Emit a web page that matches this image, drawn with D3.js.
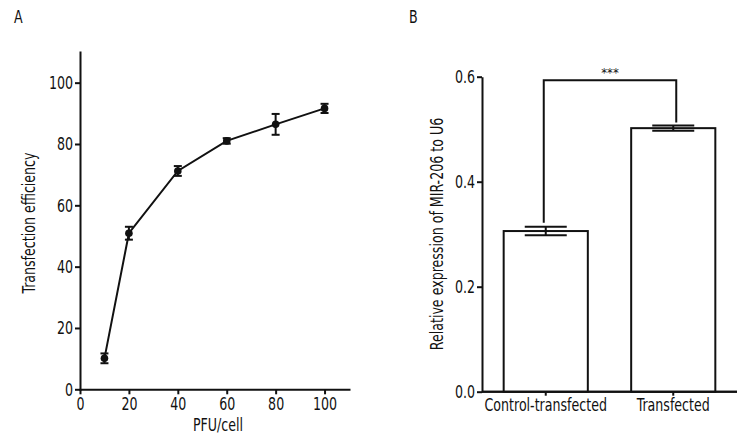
<!DOCTYPE html>
<html><head><meta charset="utf-8">
<script src="https://cdn.jsdelivr.net/npm/d3@7"></script>
<style>
body{margin:0;background:#fff;}
text{font-family:"Liberation Sans Narrow","DejaVu Sans Condensed","Arial Narrow",sans-serif;fill:#111;}
</style></head>
<body><svg id="c" width="750" height="448"></svg>
<script>
// Panel A data
const pfu = [10, 20, 40, 60, 80, 100];
const efficiency = [10.1, 50.9, 71.2, 81.0, 86.4, 91.6];
const efficiencyErr = [1.6, 2.1, 1.6, 0.9, 3.4, 1.5];
const xTicksA = [0, 20, 40, 60, 80, 100];
const yTicksA = [0, 20, 40, 60, 80, 100];
// Panel B data
const groups = ["Control-transfected", "Transfected"];
const expression = [0.306, 0.502];
const expressionErr = [0.008, 0.005];
const yTicksB = [0.0, 0.2, 0.4, 0.6];
const sigLabel = "***";

const svg = d3.select("#c");
const black = "#111";
const SX = 0.78;      // horizontal condensing of text
const FS = "18px";

// ---------- Panel A ----------
const xA = d3.scaleLinear().domain([0, 110]).range([80, 349]);
const yA = d3.scaleLinear().domain([0, 110]).range([389.3, 52]);

const gA = svg.append("g");
const axA_y = gA.append("g").attr("transform", "translate(80,0)")
  .call(d3.axisLeft(yA).tickValues(yTicksA).tickSize(5).tickPadding(4).tickSizeOuter(0));
const axA_x = gA.append("g").attr("transform", "translate(0,389.3)")
  .call(d3.axisBottom(xA).tickValues(xTicksA).tickSize(5).tickPadding(3).tickSizeOuter(0));
[axA_y, axA_x].forEach(a => {
  a.selectAll("path,line").attr("stroke", black).attr("stroke-width", 2);
  a.selectAll("text").style("font-size", FS).attr("fill", black).attr("transform", `scale(${SX},1)`);
  a.select(".domain").attr("stroke-linecap", "square");
});

const ptsA = pfu.map((p, i) => ({x: p, y: efficiency[i], e: efficiencyErr[i]}));
gA.append("path").datum(ptsA)
  .attr("fill", "none").attr("stroke", black).attr("stroke-width", 2)
  .attr("d", d3.line().x(d => xA(d.x)).y(d => yA(d.y)));
const eb = gA.selectAll(".eb").data(ptsA).enter().append("g")
  .attr("stroke", black).attr("stroke-width", 2);
eb.append("line").attr("x1", d => xA(d.x)).attr("x2", d => xA(d.x))
  .attr("y1", d => yA(d.y - d.e)).attr("y2", d => yA(d.y + d.e));
eb.append("line").attr("x1", d => xA(d.x) - 4).attr("x2", d => xA(d.x) + 4)
  .attr("y1", d => yA(d.y + d.e)).attr("y2", d => yA(d.y + d.e));
eb.append("line").attr("x1", d => xA(d.x) - 4).attr("x2", d => xA(d.x) + 4)
  .attr("y1", d => yA(d.y - d.e)).attr("y2", d => yA(d.y - d.e));
gA.selectAll(".pt").data(ptsA).enter().append("circle")
  .attr("cx", d => xA(d.x)).attr("cy", d => yA(d.y)).attr("r", 3.8).attr("fill", black);

gA.append("text").attr("transform", `translate(14,23) scale(${SX},1)`).style("font-size", FS).text("A");
gA.append("text").attr("transform", `translate(35,223) rotate(-90) scale(${SX},1)`)
  .attr("text-anchor", "middle").style("font-size", FS).text("Transfection efficiency");
gA.append("text").attr("transform", `translate(218,431) scale(${SX},1)`).attr("text-anchor", "middle")
  .style("font-size", FS).text("PFU/cell");

// ---------- Panel B ----------
const xB = d3.scaleBand().domain(groups).range([482, 737]).paddingInner(0.34).paddingOuter(0.17);
const yB = d3.scaleLinear().domain([0, 0.6]).range([391.7, 76.7]);
const gB = svg.append("g");

const axB_y = gB.append("g").attr("transform", "translate(482,0)")
  .call(d3.axisLeft(yB).tickValues(yTicksB).tickFormat(d3.format(".1f")).tickSize(5).tickPadding(4).tickSizeOuter(0));
const axB_x = gB.append("g").attr("transform", "translate(0,391.7)")
  .call(d3.axisBottom(xB).tickSize(4).tickPadding(3).tickSizeOuter(0));
[axB_y, axB_x].forEach(a => {
  a.selectAll("path,line").attr("stroke", black).attr("stroke-width", 2);
  a.selectAll("text").style("font-size", FS).attr("fill", black).attr("transform", `scale(${SX},1)`);
});
axB_x.select(".domain").attr("d", "M482,0H737");

const barsB = groups.map((g, i) => ({g, v: expression[i], e: expressionErr[i]}));
gB.selectAll(".bar").data(barsB).enter().append("rect")
  .attr("x", d => xB(d.g)).attr("width", xB.bandwidth())
  .attr("y", d => yB(d.v)).attr("height", d => yB(0) - yB(d.v))
  .attr("fill", "#fff").attr("stroke", black).attr("stroke-width", 2);
gB.append("line").attr("x1", 482).attr("x2", 737).attr("y1", yB(0)).attr("y2", yB(0))
  .attr("stroke", black).attr("stroke-width", 2);
const ebB = gB.selectAll(".ebB").data(barsB).enter().append("g")
  .attr("stroke", black).attr("stroke-width", 2);
const cx = d => xB(d.g) + xB.bandwidth() / 2;
ebB.append("line").attr("x1", cx).attr("x2", cx)
  .attr("y1", d => yB(d.v - d.e)).attr("y2", d => yB(d.v + d.e));
ebB.append("line").attr("x1", d => cx(d) - 21).attr("x2", d => cx(d) + 21)
  .attr("y1", d => yB(d.v + d.e)).attr("y2", d => yB(d.v + d.e));
ebB.append("line").attr("x1", d => cx(d) - 21).attr("x2", d => cx(d) + 21)
  .attr("y1", d => yB(d.v - d.e)).attr("y2", d => yB(d.v - d.e));

// significance bracket
const bracketY = yB(0.6) + 3.5;
const c0 = cx(barsB[0]) - 2, c1 = cx(barsB[1]) + 3;
gB.append("path")
  .attr("d", `M${c0},${yB(barsB[0].v + barsB[0].e) - 4}V${bracketY}H${c1}V${yB(barsB[1].v + barsB[1].e) - 3}`)
  .attr("fill", "none").attr("stroke", black).attr("stroke-width", 2);
gB.append("text").attr("transform", `translate(${(c0 + c1) / 2},${bracketY - 3})`)
  .attr("text-anchor", "middle").style("font-size", "13px").attr("fill", "#333").text(sigLabel);

gB.append("text").attr("transform", `translate(409,23) scale(${SX},1)`).style("font-size", FS).text("B");
gB.append("text").attr("transform", `translate(443,234) rotate(-90) scale(${SX},1)`)
  .attr("text-anchor", "middle").style("font-size", FS).text("Relative expression of MIR-206 to U6");
</script></body></html>
